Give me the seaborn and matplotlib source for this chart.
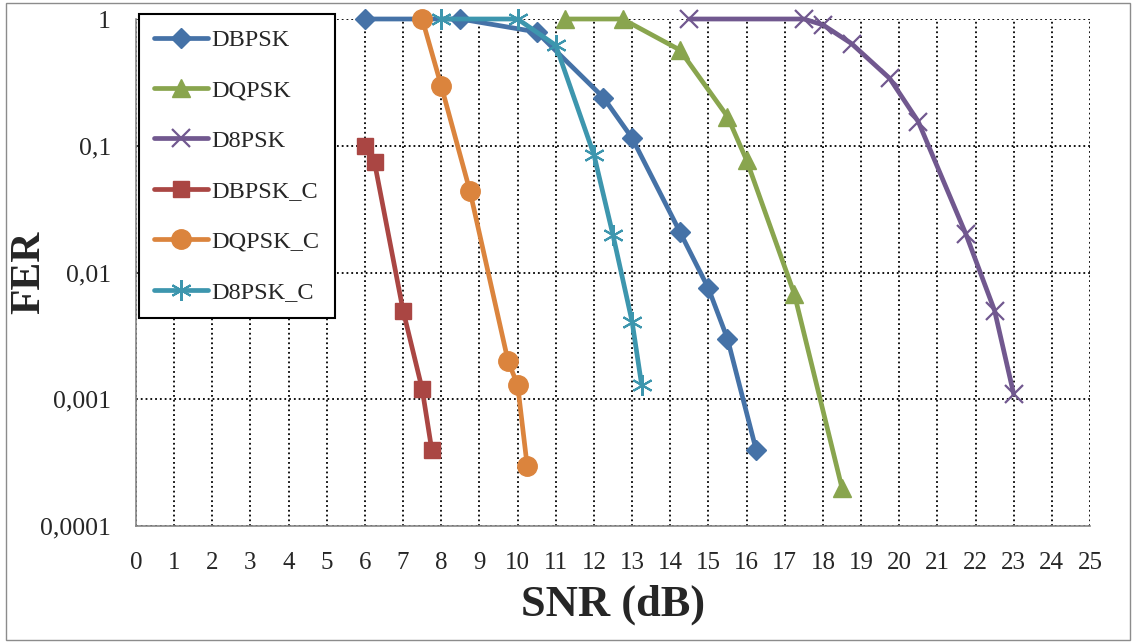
import matplotlib
matplotlib.use('Agg')
import matplotlib.pyplot as plt
import matplotlib.ticker as mticker
from matplotlib.patches import Rectangle
import seaborn as sns

sns.set_style('white')
plt.rcParams['font.family'] = ['Liberation Serif', 'DejaVu Serif']

# 곡선별 데이터
dbpsk_x = [6, 8.5, 10.5, 12.25, 13, 14.25, 15, 15.5, 16.25]
dbpsk_y = [1, 1, 0.79, 0.24, 0.115, 0.021, 0.0075, 0.003, 0.0004]

dqpsk_x = [11.25, 12.75, 14.25, 15.5, 16, 17.25, 18.5]
dqpsk_y = [1, 1, 0.57, 0.17, 0.077, 0.0068, 0.0002]

d8psk_x = [14.5, 17.5, 18, 18.75, 19.75, 20.5, 21.75, 22.5, 23]
d8psk_y = [1, 1, 0.9, 0.64, 0.34, 0.155, 0.02, 0.005, 0.0011]

dbpsk_c_x = [6, 6.25, 7, 7.5, 7.75]
dbpsk_c_y = [0.1, 0.074, 0.005, 0.0012, 0.0004]

dqpsk_c_x = [7.5, 8, 8.75, 9.75, 10, 10.25]
dqpsk_c_y = [1, 0.296, 0.044, 0.002, 0.0013, 0.0003]

d8psk_c_x = [8, 10, 11, 12, 12.5, 13, 13.25]
d8psk_c_y = [1, 1, 0.62, 0.085, 0.0197, 0.0041, 0.0013]

y_ticks = [0.0001, 0.001, 0.01, 0.1, 1]
y_tick_labels = ['0,0001', '0,001', '0,01', '0,1', '1']

# (이름, x, y, 색, 마커, 크기, 테두리두께)
series = [
    ('DBPSK',   dbpsk_x,   dbpsk_y,   '#4572A7', 'D', 10, 1),
    ('DQPSK',   dqpsk_x,   dqpsk_y,   '#89A54E', '^', 13, 1),
    ('D8PSK',   d8psk_x,   d8psk_y,   '#71588F', 'x', 13, 1.6),
    ('DBPSK_C', dbpsk_c_x, dbpsk_c_y, '#AA4643', 's', 12, 1),
    ('DQPSK_C', dqpsk_c_x, dqpsk_c_y, '#DB843D', 'o', 14, 1),
    ('D8PSK_C', d8psk_c_x, d8psk_c_y, '#3D96AE', (6, 2, 0), 15, 1.5),
]

W, H = 1133, 642
fig = plt.figure(figsize=(W / 100, H / 100), dpi=100)
ax = fig.add_axes([136 / W, 1 - 526 / H, (1090 - 136) / W, (526 - 19) / H])

for name, xs, ys, col, mk, ms, mew in series:
    sns.lineplot(x=xs, y=ys, ax=ax, color=col, marker=mk, markersize=ms,
                 markeredgecolor=col, markerfacecolor=col, markeredgewidth=mew,
                 linewidth=3.4, label=name, sort=False, estimator=None,
                 clip_on=False, zorder=3)

ax.set_yscale('log')
ax.set_ylim(0.0001, 1)
ax.set_xlim(0, 25)
ax.set_xticks(range(0, 26))
ax.set_yticks(y_ticks)
ax.yaxis.set_major_formatter(mticker.FixedFormatter(y_tick_labels))
ax.yaxis.set_minor_locator(mticker.NullLocator())

ax.grid(True, which='major', color='black', linestyle=':', linewidth=1.3)
for s in ['top', 'right']:
    ax.spines[s].set_visible(False)
for s in ['left', 'bottom']:
    ax.spines[s].set_color('#868686')
    ax.spines[s].set_linewidth(1.2)

ax.tick_params(axis='y', direction='out', length=6, color='#868686', labelsize=18.5, pad=12)
ax.tick_params(axis='x', direction='inout', length=9, color='#868686', labelsize=18, pad=14)

ax.set_xlabel('SNR (dB)', fontsize=32, fontweight='bold', labelpad=8)
ax.set_ylabel('FER', fontsize=30, fontweight='bold', labelpad=-6)

leg = ax.legend(loc='upper left', bbox_to_anchor=(139 / W, 1 - 14 / H),
                bbox_transform=fig.transFigure, borderaxespad=0,
                fontsize=17.5, frameon=True, fancybox=False, framealpha=1,
                edgecolor='black', handlelength=2.2, handletextpad=0.16,
                labelspacing=1.17, borderpad=0.62)
leg.get_frame().set_linewidth(1.5)
leg.set_zorder(5)

# 차트 바깥 테두리
fig.patches.append(Rectangle((6 / W, 2 / H), 1 - 9 / W, 1 - 5 / H,
                             transform=fig.transFigure, fill=False,
                             edgecolor='#8c8c8c', linewidth=1))

plt.savefig('out.png', dpi=100)
